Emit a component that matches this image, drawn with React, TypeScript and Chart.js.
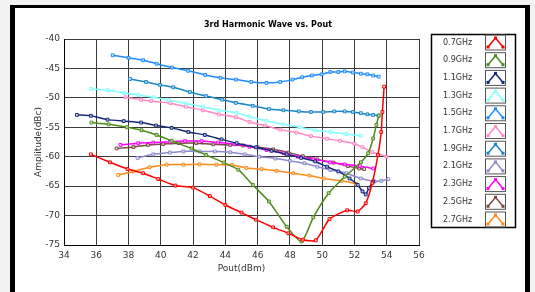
import React, { useEffect, useRef } from "react";
import { Chart, registerables } from "chart.js";

Chart.register(...registerables);

const seriesLabels = ["0.7GHz", "0.9GHz", "1.1GHz", "1.3GHz", "1.5GHz", "1.7GHz", "1.9GHz", "2.1GHz", "2.3GHz", "2.5GHz", "2.7GHz"];
const seriesColors = ["#ff0000", "#4e8a1c", "#14287a", "#80ffff", "#1e8cff", "#ff88c8", "#1a88c8", "#8c8ccc", "#ff00ff", "#7a4a40", "#ff8c1a"];

const x07 = [35.67, 36.85, 37.94, 38.9, 39.84, 40.9, 42.0, 43.04, 44.0, 45.0, 45.9, 46.96, 47.9, 48.8, 49.6, 50.45, 51.55, 52.2, 52.7, 53.1, 53.46, 53.66, 53.73, 53.84];
const y07 = [-59.6, -60.95, -62.1, -62.8, -63.8, -64.9, -65.25, -66.7, -68.2, -69.5, -70.7, -72.0, -73.0, -74.1, -74.2, -70.6, -69.1, -69.3, -67.9, -64.5, -59.7, -55.8, -52.4, -48.1];

const x09 = [35.7, 36.77, 37.9, 38.8, 39.74, 40.67, 41.9, 42.8, 43.9, 44.8, 45.7, 46.7, 47.8, 48.73, 49.45, 50.4, 51.4, 52.4, 52.85, 53.16, 53.36, 53.5];
const y09 = [-54.2, -54.5, -55.0, -55.5, -56.3, -57.3, -58.6, -59.7, -61.0, -62.2, -64.8, -67.6, -71.9, -74.4, -70.3, -66.2, -63.4, -60.95, -59.4, -56.9, -54.6, -53.05];

const x11 = [34.8, 35.67, 36.7, 37.7, 38.78, 39.7, 40.67, 41.7, 42.73, 43.76, 44.7, 45.9, 46.86, 47.8, 48.7, 49.56, 50.3, 51.0, 51.7, 52.2, 52.5, 52.7, 52.9, 53.16];
const y11 = [-52.9, -53.05, -53.7, -53.95, -54.2, -54.7, -55.1, -55.8, -56.3, -57.05, -57.7, -58.4, -59.0, -59.6, -60.2, -60.8, -61.7, -62.5, -63.7, -64.8, -65.9, -66.4, -65.3, -64.2];

const x13 = [35.67, 36.7, 37.7, 38.6, 39.55, 40.5, 41.55, 42.6, 43.6, 44.7, 45.5, 46.55, 47.6, 48.6, 49.55, 50.5, 51.5, 52.4];
const y13 = [-48.5, -48.7, -49.15, -49.5, -49.9, -50.4, -50.95, -51.5, -52.1, -52.55, -53.2, -53.9, -54.5, -55.0, -55.5, -55.8, -56.15, -56.45];

const x15 = [37.02, 38.0, 38.9, 39.74, 40.7, 41.7, 42.75, 43.7, 44.65, 45.6, 46.55, 47.4, 48.16, 48.76, 49.36, 49.96, 50.5, 51.0, 51.4, 51.9, 52.4, 52.8, 53.16, 53.5];
const y15 = [-42.76, -43.2, -43.6, -44.2, -44.85, -45.4, -46.1, -46.6, -46.9, -47.3, -47.45, -47.3, -46.9, -46.5, -46.2, -46.0, -45.6, -45.6, -45.5, -45.7, -45.9, -46.0, -46.2, -46.4];

const x17 = [37.8, 38.78, 39.4, 40.6, 41.55, 42.6, 43.6, 44.65, 45.5, 46.45, 47.4, 48.4, 49.3, 50.3, 51.1, 52.0, 52.5, 53.1, 54.0];
const y17 = [-49.9, -50.3, -50.55, -50.9, -51.5, -52.1, -52.8, -53.3, -54.1, -54.7, -55.4, -55.9, -56.5, -56.95, -57.3, -57.8, -58.4, -59.2, -60.0];

const x19 = [38.09, 39.08, 39.95, 40.77, 41.8, 42.8, 43.8, 44.65, 45.7, 46.7, 47.6, 48.55, 49.3, 50.06, 50.75, 51.4, 51.9, 52.4, 52.8, 53.16, 53.5];
const y19 = [-46.8, -47.3, -47.8, -48.2, -49.0, -49.7, -50.3, -50.85, -51.35, -51.9, -52.1, -52.3, -52.4, -52.4, -52.3, -52.3, -52.4, -52.6, -52.8, -52.9, -53.0];

const x21 = [38.56, 39.53, 40.56, 41.4, 42.4, 43.35, 44.3, 45.2, 46.1, 47.1, 48.0, 48.9, 49.7, 50.5, 51.5, 52.4, 53.25, 53.66, 54.1];
const y21 = [-60.2, -59.6, -59.3, -59.1, -59.1, -59.1, -59.25, -59.6, -60.0, -60.3, -60.7, -61.1, -61.7, -62.25, -62.8, -63.7, -64.2, -64.1, -63.8];

const x23 = [37.5, 38.6, 39.53, 40.56, 41.5, 42.53, 43.55, 44.6, 45.5, 46.55, 47.6, 48.5, 49.45, 50.5, 51.4, 52.34, 53.16];
const y23 = [-58.0, -57.7, -57.6, -57.45, -57.35, -57.35, -57.6, -57.9, -58.3, -58.85, -59.4, -60.0, -60.4, -60.95, -61.3, -61.6, -62.0];

const x25 = [37.26, 38.3, 39.2, 40.15, 41.1, 42.2, 43.25, 44.3, 45.1, 46.0, 46.96, 47.9, 48.8, 49.7, 50.7, 51.6, 52.3, 52.6];
const y25 = [-58.6, -58.35, -58.0, -57.85, -57.7, -57.7, -57.9, -58.0, -58.1, -58.4, -58.75, -59.3, -59.9, -60.45, -61.0, -61.6, -62.0, -62.1];

const x27 = [37.36, 38.3, 39.3, 40.36, 41.4, 42.4, 43.45, 44.4, 45.3, 46.24, 47.17, 48.2, 49.2, 50.1, 51.2, 52.1];
const y27 = [-63.1, -62.5, -61.8, -61.35, -61.35, -61.3, -61.35, -61.4, -61.9, -62.1, -62.4, -62.8, -63.2, -63.7, -64.1, -64.6];

const seriesX = [x07, x09, x11, x13, x15, x17, x19, x21, x23, x25, x27];
const seriesY = [y07, y09, y11, y13, y15, y17, y19, y21, y23, y25, y27];

const xTicks = [34, 36, 38, 40, 42, 44, 46, 48, 50, 52, 54, 56];
const yTicks = [-40, -45, -50, -55, -60, -65, -70, -75];

const chartTitle = "3rd Harmonic Wave vs. Pout";
const xTitle = "Pout(dBm)";
const yTitle = "Amplitude(dBc)";

const FONT = "'DejaVu Sans', sans-serif";

const decorPlugin = {
  id: "decor",
  afterDraw(chart: any) {
    const ctx = chart.ctx as CanvasRenderingContext2D;
    const area = chart.chartArea;
    ctx.save();
    // title
    ctx.fillStyle = "#000";
    ctx.font = `bold 8px ${FONT}`;
    ctx.textAlign = "center";
    ctx.textBaseline = "middle";
    ctx.fillText(chartTitle, 268, 25);
    // axis titles
    ctx.fillStyle = "#333";
    ctx.font = `9px ${FONT}`;
    ctx.fillText(xTitle, (area.left + area.right) / 2, 269);
    ctx.save();
    ctx.translate(39, (area.top + area.bottom) / 2);
    ctx.rotate(-Math.PI / 2);
    ctx.fillText(yTitle, 0, 0);
    ctx.restore();
    // legend box
    const bx = 431.5, by = 34.5, bw = 84, bh = 193;
    ctx.strokeStyle = "#000";
    ctx.lineWidth = 1.5;
    ctx.strokeRect(bx, by, bw, bh);
    const rowH = 17.7;
    for (let i = 0; i < seriesLabels.length; i++) {
      const cy = 42.5 + i * rowH;
      ctx.fillStyle = "#333";
      ctx.font = `8px ${FONT}`;
      ctx.textAlign = "left";
      ctx.textBaseline = "middle";
      ctx.fillText(seriesLabels[i], 443, cy);
      const sx = 485.5, sy = cy - 7.5, sw = 20, sh = 15;
      ctx.strokeStyle = "#555";
      ctx.lineWidth = 1;
      ctx.strokeRect(sx, sy, sw, sh);
      const col = seriesColors[i];
      ctx.strokeStyle = col;
      ctx.lineWidth = 1.5;
      ctx.beginPath();
      ctx.moveTo(sx + 2.5, sy + sh - 3);
      ctx.lineTo(sx + sw / 2, sy + 3);
      ctx.lineTo(sx + sw - 2.5, sy + sh - 3);
      ctx.stroke();
      ctx.fillStyle = col;
      const pts = [[sx + 2.5, sy + sh - 3], [sx + sw / 2, sy + 3], [sx + sw - 2.5, sy + sh - 3]];
      for (const p of pts) ctx.fillRect(p[0] - 1.5, p[1] - 1.5, 3, 3);
    }
    ctx.restore();
  },
};

export default function App() {
  const ref = useRef<HTMLCanvasElement | null>(null);
  useEffect(() => {
    if (!ref.current) return;
    const datasets = seriesLabels.map((label, i) => ({
      label,
      data: seriesX[i].map((x, j) => ({ x, y: seriesY[i][j] })),
      borderColor: seriesColors[i],
      backgroundColor: "#ffffff",
      borderWidth: 1.5,
      pointStyle: "rect" as const,
      pointRadius: 2,
      pointBorderWidth: 1,
      pointBorderColor: seriesColors[i],
      pointBackgroundColor: "rgba(255,255,255,0.6)",
      tension: 0.2,
      fill: false,
    }));
    const chart = new Chart(ref.current, {
      type: "line",
      data: { datasets },
      options: {
        animation: false,
        responsive: false,
        maintainAspectRatio: false,
        layout: { padding: { left: 0, top: 39, right: 116, bottom: 0 } },
        plugins: { legend: { display: false }, title: { display: false }, tooltip: { enabled: false } },
        scales: {
          x: {
            type: "linear",
            min: 34,
            max: 56,
            afterBuildTicks: (s: any) => { s.ticks = xTicks.map((v) => ({ value: v })); },
            afterFit: (s: any) => { s.height = 47; },
            grid: { color: "#3a3a3a", lineWidth: 1, drawTicks: false },
            border: { color: "#000", width: 1 },
            ticks: { color: "#333", font: { family: FONT, size: 9 }, padding: 5, maxRotation: 0 },
          },
          y: {
            type: "linear",
            min: -75,
            max: -40,
            afterBuildTicks: (s: any) => { s.ticks = yTicks.map((v) => ({ value: v })); },
            afterFit: (s: any) => { s.width = 64; },
            grid: { color: "#3a3a3a", lineWidth: 1, drawTicks: false },
            border: { color: "#000", width: 1 },
            ticks: { color: "#333", font: { family: FONT, size: 9 }, padding: 4 },
          },
        },
      },
      plugins: [decorPlugin],
    });
    return () => chart.destroy();
  }, []);
  return (
    <div style={{ position: "absolute", left: 0, top: 0, width: 535, height: 292, background: "#f2f2f2", overflow: "hidden" }}>
      <div style={{ position: "absolute", left: 10, top: 5, width: 510, height: 300, borderLeft: "5px solid #000", borderTop: "3px solid #000", borderRight: "5px solid #000", background: "#fff" }} />
      <canvas ref={ref} width={535} height={292} style={{ position: "absolute", left: 0, top: 0, width: 535, height: 292 }} />
    </div>
  );
}
